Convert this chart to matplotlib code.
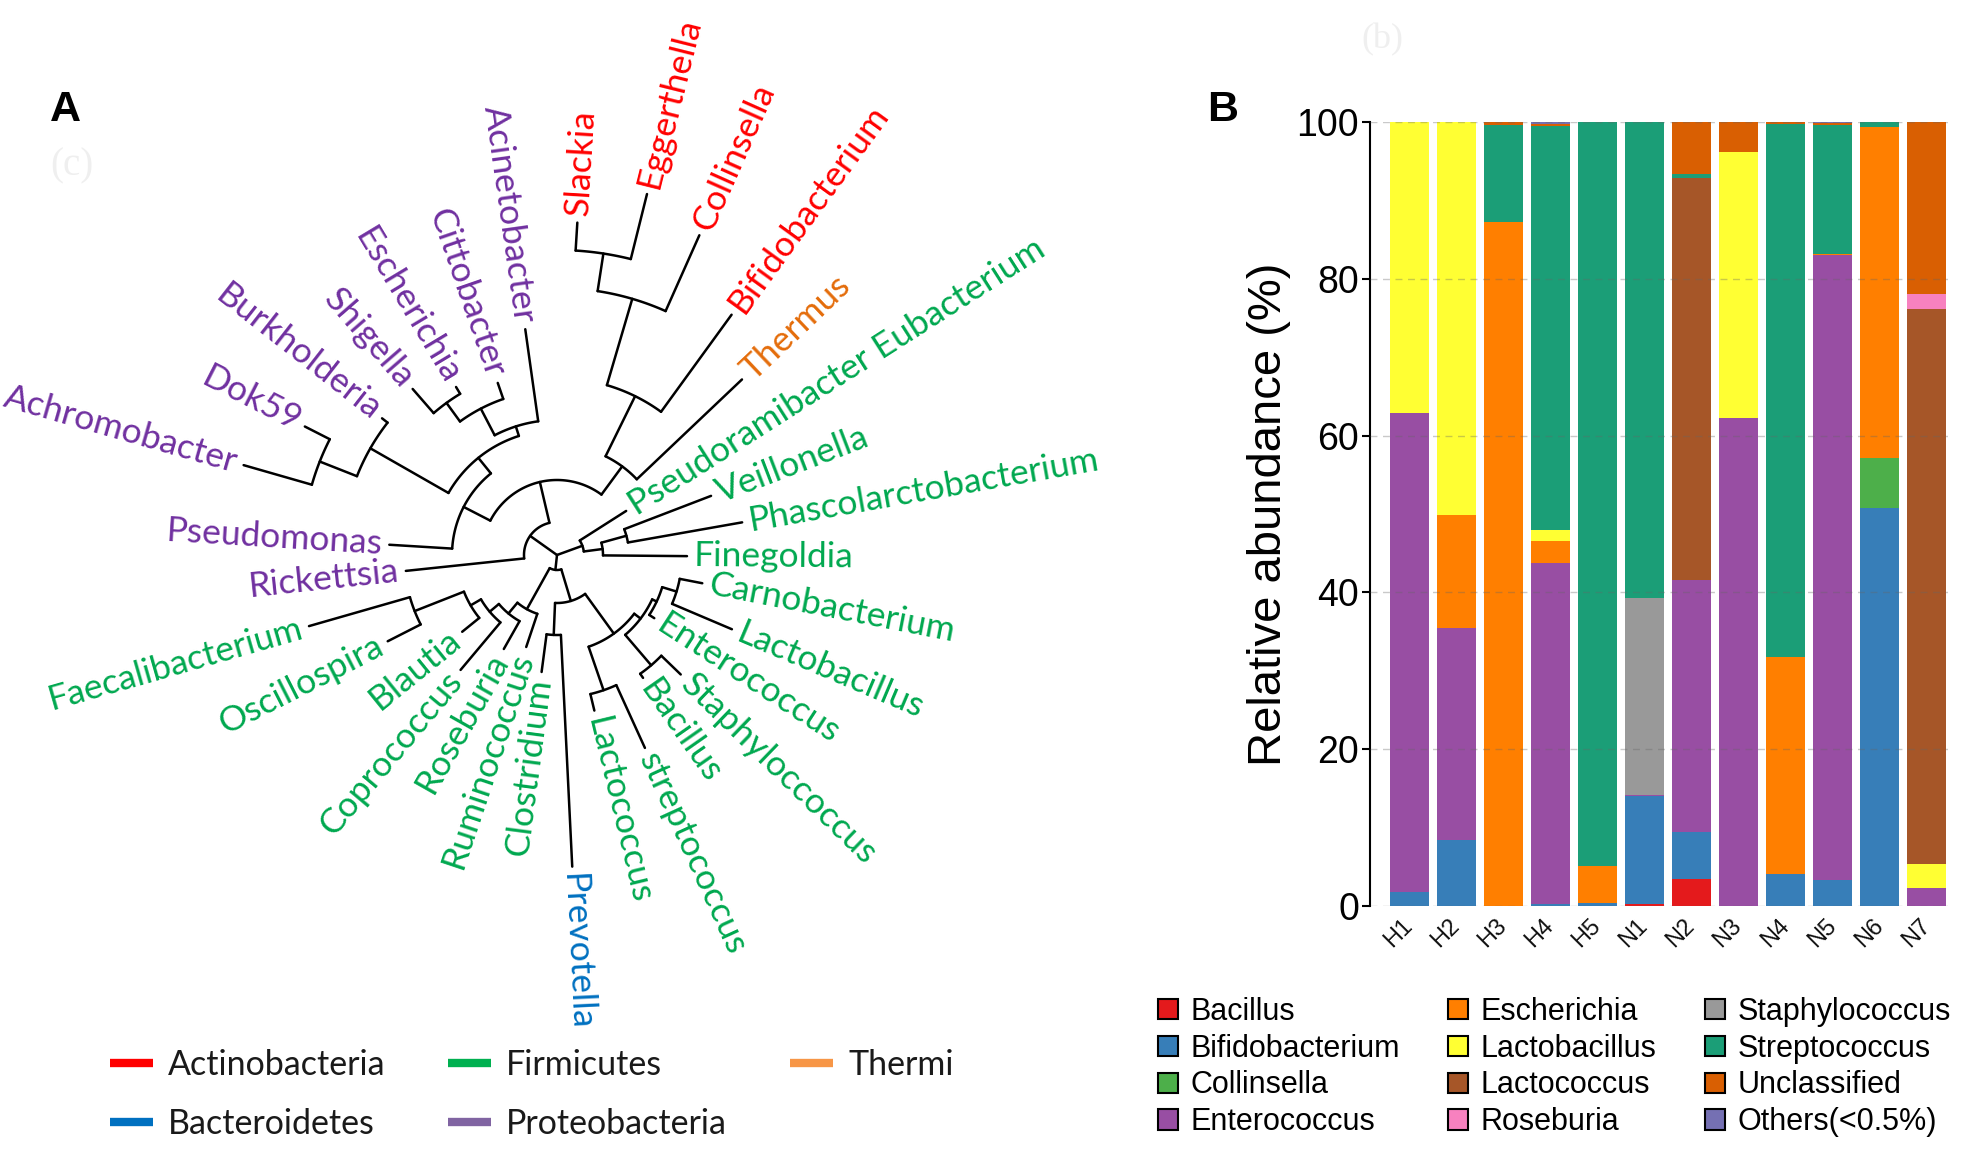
import numpy as np
import matplotlib
matplotlib.use('Agg')
import matplotlib.pyplot as plt
from matplotlib.lines import Line2D
from matplotlib.patches import Patch

plt.rcParams['font.family'] = ['Liberation Sans', 'DejaVu Sans']

# ---------------- panel A: genus tree ----------------
# leaves in angular order (degrees, counter-clockwise from east) and tip radius
genera = ['Thermus', 'Bifidobacterium', 'Collinsella', 'Eggerthella', 'Slackia',
          'Acinetobacter', 'Cittobacter', 'Escherichia', 'Shigella', 'Burkholderia',
          'Dok59', 'Achromobacter', 'Pseudomonas', 'Rickettsia',
          'Faecalibacterium', 'Oscillospira', 'Blautia', 'Coprococcus', 'Roseburia',
          'Ruminococcus', 'Clostridium', 'Prevotella', 'Lactococcus', 'streptococcus',
          'Bacillus', 'Staphyloccoccus', 'Enterococcus', 'Lactobacillus',
          'Carnobacterium', 'Finegoldia', 'Phascolarctobacterium', 'Veillonella',
          'Pseudoramibacter Eubacterium']
leaf_phylum = ['Thermi'] + ['Actinobacteria'] * 4 + ['Proteobacteria'] * 9 \
    + ['Firmicutes'] * 7 + ['Bacteroidetes'] + ['Firmicutes'] * 11
leaf_angle = [43.5, 54, 66, 76, 86.5, 98, 109, 121, 131, 142, 153, 164, 176.5, 186,
              196, 207, 219, 230, 240.5, 251.5, 262.5, 272.8, 283.5, 294.5, 305, 316,
              327, 337, 349, 359.5, 370, 381, 392.5]
leaf_len = [255, 297, 350, 372, 333, 228, 182, 196, 220, 222, 283, 326, 168, 152,
            258, 190, 122, 150, 108, 97, 118, 312, 160, 212, 150, 172, 116, 190,
            148, 130, 188, 165, 82]

# internal nodes: (name, children, radius)
clades = [
    ('root', ['X', 'F1', 'L'], 0),
    ('X', ['U', 'Rickettsia'], 33),
    ('U', ['A4', 'Proteo'], 75),
    ('A4', ['Thermus', 'A3'], 110),
    ('A3', ['Bifidobacterium', 'A2'], 177),
    ('A2', ['Collinsella', 'A1'], 267),
    ('A1', ['Eggerthella', 'Slackia'], 305),
    ('Proteo', ['P2', 'Pseudomonas'], 105),
    ('P2', ['P4', 'P3'], 125),
    ('P4', ['Acinetobacter', 'P4a'], 135),
    ('P4a', ['Cittobacter', 'SE'], 165),
    ('SE', ['Escherichia', 'Shigella'], 188),
    ('P3', ['Burkholderia', 'P3a'], 215),
    ('P3a', ['Dok59', 'Achromobacter'], 255),
    ('L', ['L1', 'L2'], 15),
    ('L1', ['C4', 'Ruminococcus'], 62),
    ('C4', ['C3', 'Roseburia'], 76),
    ('C3', ['C2', 'Coprococcus'], 88),
    ('C2', ['C1', 'Blautia'], 100),
    ('C1', ['Faecalibacterium', 'Oscillospira'], 153),
    ('L2', ['CP', 'L3'], 48),
    ('CP', ['Clostridium', 'Prevotella'], 80),
    ('L3', ['LS', 'LB'], 97),
    ('LS', ['Lactococcus', 'streptococcus'], 143),
    ('LB', ['BS', 'EL'], 105),
    ('BS', ['Bacillus', 'Staphyloccoccus'], 145),
    ('EL', ['Enterococcus', 'LC'], 110),
    ('LC', ['Lactobacillus', 'Carnobacterium'], 125),
    ('F1', ['Pseudoramibacter Eubacterium', 'F2'], 27),
    ('F2', ['Finegoldia', 'F3'], 46),
    ('F3', ['Phascolarctobacterium', 'Veillonella'], 72),
]

phyla = ['Actinobacteria', 'Bacteroidetes', 'Firmicutes', 'Proteobacteria', 'Thermi']
phylum_text_color = {'Actinobacteria': '#FF0000', 'Bacteroidetes': '#0070C0',
                     'Firmicutes': '#00A84F', 'Proteobacteria': '#7030A0',
                     'Thermi': '#E46C0A'}
phylum_key_color = {'Actinobacteria': '#FF0000', 'Bacteroidetes': '#0070C0',
                    'Firmicutes': '#00B050', 'Proteobacteria': '#8064A2',
                    'Thermi': '#F79646'}

# ---------------- panel B: relative abundance ----------------
samples = ['H1', 'H2', 'H3', 'H4', 'H5', 'N1', 'N2', 'N3', 'N4', 'N5', 'N6', 'N7']
taxa = ['Bacillus', 'Bifidobacterium', 'Collinsella', 'Enterococcus', 'Escherichia',
        'Lactobacillus', 'Lactococcus', 'Roseburia', 'Staphylococcus',
        'Streptococcus', 'Unclassified', 'Others(<0.5%)']
bacillus = [0, 0, 0, 0, 0, 0.3, 3.5, 0, 0, 0, 0, 0]
bifidobacterium = [1.8, 8.4, 0, 0.3, 0.4, 13.7, 5.9, 0, 4.1, 3.3, 50.8, 0]
collinsella = [0, 0, 0, 0, 0, 0, 0, 0, 0, 0, 6.3, 0]
enterococcus = [61.1, 27.0, 0, 43.5, 0, 0.2, 32.2, 62.2, 0, 79.7, 0, 2.3]
escherichia = [0, 14.5, 87.2, 2.7, 4.7, 0, 0, 0, 27.7, 0.2, 42.2, 0]
lactobacillus = [37.1, 50.1, 0, 1.4, 0, 0, 0, 34.0, 0, 0, 0, 3.0]
lactococcus = [0, 0, 0, 0, 0, 0, 51.2, 0, 0, 0, 0, 70.8]
roseburia = [0, 0, 0, 0, 0, 0, 0, 0, 0, 0, 0, 2.0]
staphylococcus = [0, 0, 0, 0, 0, 25.1, 0, 0, 0, 0, 0, 0]
streptococcus = [0, 0, 12.4, 51.55, 94.9, 60.7, 0.6, 0, 67.9, 16.4, 0.7, 0]
unclassified = [0, 0, 0.4, 0.35, 0, 0, 6.6, 3.8, 0.3, 0.3, 0, 21.9]
others = [0, 0, 0, 0.2, 0, 0, 0, 0, 0, 0.1, 0, 0]
abundance = [bacillus, bifidobacterium, collinsella, enterococcus, escherichia,
             lactobacillus, lactococcus, roseburia, staphylococcus, streptococcus,
             unclassified, others]
taxa_colors = ['#E41A1C', '#377EB8', '#4DAF4A', '#984EA3', '#FF7F00', '#FFFF33',
               '#A65628', '#F781BF', '#999999', '#1B9E77', '#D95F02', '#7570B3']

W, H = 1967, 1165
fig = plt.figure(figsize=(W / 100, H / 100), dpi=100)

# ---- tree (axes in pixel units, y down) ----
axA = fig.add_axes([0, 0, 1, 1])
axA.set_xlim(0, W)
axA.set_ylim(H, 0)
axA.axis('off')
cx, cy = 557, 555

ang = dict(zip(genera, leaf_angle))
rad = dict(zip(genera, leaf_len))
kids = {}
for name, ch, r in clades:
    kids[name] = ch
    rad[name] = r


def node_angle(n):
    if n not in ang:
        a = [node_angle(c) for c in kids[n]]
        ang[n] = (min(a) + max(a)) / 2
    return ang[n]


def pt(a, r):
    t = np.deg2rad(a)
    return cx + r * np.cos(t), cy - r * np.sin(t)


node_angle('root')
tree_kw = dict(color='black', lw=1.8, solid_capstyle='round', solid_joinstyle='round')
for name, ch, r in clades:
    a = [ang[c] for c in ch]
    if r > 0:
        t = np.linspace(min(a), max(a), 60)
        x, y = pt(t, r)
        axA.plot(x, y, **tree_kw)
    for c in ch:
        x0, y0 = pt(ang[c], r)
        x1, y1 = pt(ang[c], rad[c])
        axA.plot([x0, x1], [y0, y1], **tree_kw)

for g, ph in zip(genera, leaf_phylum):
    a = ang[g] % 360
    x, y = pt(a, rad[g] + 7)
    if 90 < a < 270:
        rot, ha = a - 180, 'right'
    else:
        rot, ha = (a if a <= 90 else a - 360), 'left'
    axA.text(x, y, g, rotation=rot, ha=ha, va='center', rotation_mode='anchor',
             fontsize=25.5, family=['Lato', 'DejaVu Sans'],
             color=phylum_text_color[ph])

key_handles = [Line2D([], [], color=phylum_key_color[p], lw=6, solid_capstyle='butt')
               for p in phyla]
legA = axA.legend(key_handles, phyla, ncol=3, loc='upper left',
                  bbox_to_anchor=(110 / W, 1 - 1049 / H), bbox_transform=fig.transFigure,
                  frameon=False, handlelength=1.25, handletextpad=0.45,
                  columnspacing=1.85, labelspacing=0.78, borderpad=0, borderaxespad=0,
                  prop={'family': ['Lato', 'DejaVu Sans'], 'size': 24.5})
for t in legA.get_texts():
    t.set_color('#1a1a1a')

# faint scan remnants
fig.text(1382 / W, 1 - 40 / H, '(b)', fontsize=26, color='#efefef', ha='center',
         va='center', family='Liberation Serif')
fig.text(72 / W, 1 - 166 / H, '(c)', fontsize=28, color='#efefef', ha='center',
         va='center', family='Liberation Serif')

fig.text(65 / W, 1 - 110 / H, 'A', fontsize=31, fontweight='bold', ha='center', va='center')
fig.text(1223 / W, 1 - 110 / H, 'B', fontsize=31, fontweight='bold', ha='center', va='center')

# ---- stacked bars ----
axB = fig.add_axes([1370 / W, 1 - 906 / H, 578 / W, (906 - 122) / H])
xpos = np.arange(len(samples))
bottom = np.zeros(len(samples))
for vals, col in zip(abundance, taxa_colors):
    axB.bar(xpos, vals, width=0.83, bottom=bottom, color=col, edgecolor='none', zorder=2)
    bottom += np.array(vals)

axB.set_xlim(-0.83, 11.45)
axB.set_ylim(0, 100)
axB.set_yticks([0, 20, 40, 60, 80, 100])
axB.yaxis.grid(True, linestyle=(0, (5, 4)), color='#666666', alpha=0.35, lw=1.0, zorder=3)
axB.set_axisbelow(False)
for s in ['top', 'right', 'bottom']:
    axB.spines[s].set_visible(False)
axB.spines['left'].set_linewidth(1.5)
axB.tick_params(axis='y', direction='out', length=6, width=1.5, labelsize=27, pad=2)
axB.tick_params(axis='x', length=0, pad=12)
axB.set_xticks(xpos)
axB.set_xticklabels(samples, rotation=45, ha='right', va='center',
                    rotation_mode='anchor', fontsize=17, color='#111111')
axB.set_ylabel('Relative abundance (%)', fontsize=34, labelpad=4)

taxa_handles = [Patch(facecolor=c, edgecolor='black', linewidth=1.5) for c in taxa_colors]
fig.legend(taxa_handles, taxa, ncol=3, loc='upper left',
           bbox_to_anchor=(1158 / W, 1 - 997 / H), frameon=False, fontsize=22,
           handlelength=0.65, handleheight=0.65, handletextpad=0.4,
           columnspacing=1.6, labelspacing=0.22, borderpad=0, borderaxespad=0)

fig.savefig('out.png', dpi=100)
